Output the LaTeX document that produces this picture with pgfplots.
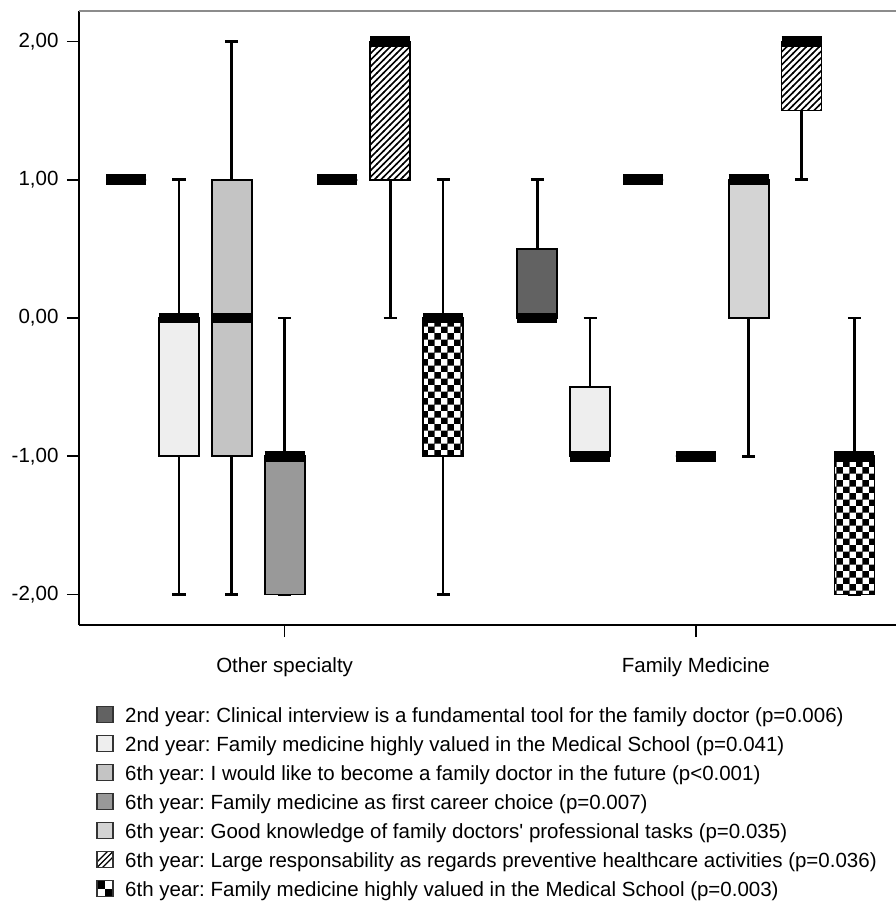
\documentclass[border=0pt]{standalone}
\usepackage{fontspec}
\setmainfont{Liberation Sans}
\usepackage{pgfplots}
\pgfplotsset{compat=1.18}
\usepgfplotslibrary{statistics}
\usetikzlibrary{patterns}
\definecolor{cA}{HTML}{626262}
\definecolor{cB}{HTML}{EEEEEE}
\definecolor{cC}{HTML}{C4C4C4}
\definecolor{cD}{HTML}{999999}
\definecolor{cE}{HTML}{D4D4D4}
\pgfdeclarepatternformonly{myhatch}{\pgfqpoint{-1pt}{-1pt}}{\pgfqpoint{7.5pt}{7.5pt}}{\pgfqpoint{6.5pt}{6.5pt}}{%
  \pgfsetlinewidth{1.5pt}%
  \pgfpathmoveto{\pgfqpoint{-0.5pt}{-0.5pt}}\pgfpathlineto{\pgfqpoint{7pt}{7pt}}\pgfusepath{stroke}}
\pgfdeclarepatternformonly{mycheck}{\pgfpointorigin}{\pgfqpoint{13.4pt}{13.4pt}}{\pgfqpoint{13.4pt}{13.4pt}}{%
  \pgfpathrectangle{\pgfpointorigin}{\pgfqpoint{6.75pt}{6.75pt}}%
  \pgfpathrectangle{\pgfqpoint{6.7pt}{6.7pt}}{\pgfqpoint{6.75pt}{6.75pt}}%
  \pgfusepath{fill}}
\frenchspacing
\begin{document}
\begin{tikzpicture}
\begin{axis}[
  scale only axis, width=817pt, height=614pt,
  xmin=0.5, xmax=2.4866, ymin=-2.22, ymax=2.22,
  axis x line*=bottom, axis y line*=left,
  axis line style={line width=1.7pt, black},
  xtick={1,2}, xticklabels={Other specialty,Family Medicine},
  ytick={-2,-1,0,1,2}, yticklabels={{-2,00},{-1,00},{0,00},{1,00},{2,00}},
  tick align=outside, major tick length=12pt,
  tick style={line width=1.7pt, black},
  ticklabel style={font=\fontsize{20.5}{24}\selectfont},
  xticklabel style={yshift=-17pt},
  yticklabel style={xshift=-5pt},
  clip=false,
  boxplot/draw direction=y,
  every axis plot/.append style={draw=black, line width=1.8pt},
  boxplot/every median/.style={line width=10.5pt, line cap=butt},
  boxplot/every whisker/.style={line width=2.6pt},
]
\draw[line width=2pt, color=gray!90] (rel axis cs:0,1) -- (rel axis cs:1.01,1);
% Other specialty
\addplot[fill=cA, boxplot prepared={draw position=0.6145, lower whisker=1, lower quartile=1, median=1, upper quartile=1, upper whisker=1, box extend=0.0973, whisker extend=0.032}] coordinates {};
\addplot[fill=cB, boxplot prepared={draw position=0.743, lower whisker=-2, lower quartile=-1, median=0, upper quartile=0, upper whisker=1, box extend=0.0973, whisker extend=0.032}] coordinates {};
\addplot[fill=cC, boxplot prepared={draw position=0.8715, lower whisker=-2, lower quartile=-1, median=0, upper quartile=1, upper whisker=2, box extend=0.0973, whisker extend=0.032}] coordinates {};
\addplot[fill=cD, boxplot prepared={draw position=1.0, lower whisker=-2, lower quartile=-2, median=-1, upper quartile=-1, upper whisker=0, box extend=0.0973, whisker extend=0.032}] coordinates {};
\addplot[fill=cE, boxplot prepared={draw position=1.1285, lower whisker=1, lower quartile=1, median=1, upper quartile=1, upper whisker=1, box extend=0.0973, whisker extend=0.032}] coordinates {};
\addplot[boxplot/every box/.append style={fill=white, postaction={pattern=myhatch}}, boxplot prepared={draw position=1.257, lower whisker=0, lower quartile=1, median=2, upper quartile=2, upper whisker=2, box extend=0.0973, whisker extend=0.032}] coordinates {};
\addplot[boxplot/every box/.append style={fill=white, postaction={pattern=mycheck}}, boxplot prepared={draw position=1.3855, lower whisker=-2, lower quartile=-1, median=0, upper quartile=0, upper whisker=1, box extend=0.0973, whisker extend=0.032}] coordinates {};
% Family Medicine
\addplot[fill=cA, boxplot prepared={draw position=1.6145, lower whisker=0, lower quartile=0, median=0, upper quartile=0.5, upper whisker=1, box extend=0.0973, whisker extend=0.032}] coordinates {};
\addplot[fill=cB, boxplot prepared={draw position=1.743, lower whisker=-1, lower quartile=-1, median=-1, upper quartile=-0.5, upper whisker=0, box extend=0.0973, whisker extend=0.032}] coordinates {};
\addplot[fill=cC, boxplot prepared={draw position=1.8715, lower whisker=1, lower quartile=1, median=1, upper quartile=1, upper whisker=1, box extend=0.0973, whisker extend=0.032}] coordinates {};
\addplot[fill=cD, boxplot prepared={draw position=2.0, lower whisker=-1, lower quartile=-1, median=-1, upper quartile=-1, upper whisker=-1, box extend=0.0973, whisker extend=0.032}] coordinates {};
\addplot[fill=cE, boxplot prepared={draw position=2.1285, lower whisker=-1, lower quartile=0, median=1, upper quartile=1, upper whisker=1, box extend=0.0973, whisker extend=0.032}] coordinates {};
\addplot[boxplot/every box/.append style={fill=white, postaction={pattern=myhatch}}, boxplot prepared={draw position=2.257, lower whisker=1, lower quartile=1.5, median=2, upper quartile=2, upper whisker=2, box extend=0.0973, whisker extend=0.032}] coordinates {};
\addplot[boxplot/every box/.append style={fill=white, postaction={pattern=mycheck}}, boxplot prepared={draw position=2.3855, lower whisker=-2, lower quartile=-2, median=-1, upper quartile=-1, upper whisker=0, box extend=0.0973, whisker extend=0.032}] coordinates {};
\end{axis}
% legend
\begin{scope}[font=\fontsize{20.5}{24}\selectfont]
\foreach \i/\t in {0/{2nd year: Clinical interview is a fundamental tool for the family doctor (p=0.006)},
  1/{2nd year: Family medicine highly valued in the Medical School (p=0.041)},
  2/{6th year: I would like to become a family doctor in the future (p<0.001)},
  3/{6th year: Family medicine as first career choice (p=0.007)},
  4/{6th year: Good knowledge of family doctors\textquotesingle\ professional tasks (p=0.035)},
  5/{6th year: Large responsability as regards preventive healthcare activities (p=0.036)},
  6/{6th year: Family medicine highly valued in the Medical School (p=0.003)}}{
  \node[anchor=base west, inner sep=0pt] at (46pt,{-97pt-29pt*\i}) {\t};
}
\def\sq#1{(18pt,{-97.5pt-29pt*#1}) rectangle (34pt,{-81.5pt-29pt*#1})}
\filldraw[fill=cA, draw=black!80, line width=1.4pt] \sq{0};
\filldraw[fill=cB, draw=black!80, line width=1.4pt] \sq{1};
\filldraw[fill=cC, draw=black!80, line width=1.4pt] \sq{2};
\filldraw[fill=cD, draw=black!80, line width=1.4pt] \sq{3};
\filldraw[fill=cE, draw=black!80, line width=1.4pt] \sq{4};
\begin{scope}
\clip \sq{5};
\draw[line width=1.4pt] (18pt,-242.5pt) -- (34pt,-226.5pt) (23.5pt,-242.5pt) -- (39.5pt,-226.5pt) (12.5pt,-242.5pt) -- (28.5pt,-226.5pt);
\end{scope}
\draw[draw=black!80, line width=1.4pt] \sq{5};
\fill[black] (18pt,-255.5pt) rectangle (26pt,-263.5pt);
\fill[black] (26pt,-263.5pt) rectangle (34pt,-271.5pt);
\draw[draw=black!80, line width=1.4pt] \sq{6};
\end{scope}
\pgfresetboundingbox
\path[use as bounding box] (-79pt,-280pt) rectangle (817pt,625pt);
\end{tikzpicture}
\end{document}
